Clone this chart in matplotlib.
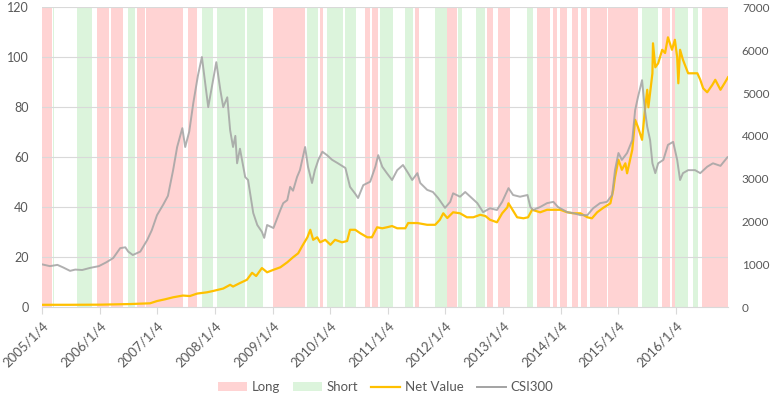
import matplotlib
matplotlib.use("Agg")
import matplotlib.pyplot as plt
from matplotlib.patches import Patch
from matplotlib.lines import Line2D
from datetime import datetime

# ---------------- data (dates as decimal years) ----------------
csi_t = [2005.01, 2005.14, 2005.27, 2005.37, 2005.49, 2005.58, 2005.70, 2005.84, 2005.99,
         2006.12, 2006.24, 2006.36, 2006.45, 2006.50, 2006.58, 2006.71, 2006.83, 2006.91,
         2007.00, 2007.11, 2007.19, 2007.28, 2007.35, 2007.44, 2007.49, 2007.56, 2007.63,
         2007.71, 2007.78, 2007.83, 2007.89, 2007.96,
         2008.03, 2008.10, 2008.15, 2008.22, 2008.27, 2008.32, 2008.36, 2008.39, 2008.44,
         2008.53, 2008.58, 2008.67, 2008.74, 2008.82, 2008.86, 2008.91,
         2009.02, 2009.14, 2009.19, 2009.26, 2009.31, 2009.36, 2009.43, 2009.48, 2009.57,
         2009.62, 2009.69, 2009.74, 2009.80, 2009.87, 2009.95,
         2010.04, 2010.14, 2010.27, 2010.35, 2010.44, 2010.49, 2010.58, 2010.70, 2010.79,
         2010.84, 2010.91, 2010.99,
         2011.08, 2011.17, 2011.27, 2011.36, 2011.43, 2011.52, 2011.57, 2011.69, 2011.79,
         2011.88,
         2012.00, 2012.09, 2012.14, 2012.26, 2012.35, 2012.44, 2012.56, 2012.66, 2012.78,
         2012.90, 2012.99,
         2013.10, 2013.18, 2013.30, 2013.43, 2013.48, 2013.53, 2013.65, 2013.77, 2013.88,
         2013.96,
         2014.12, 2014.22, 2014.35, 2014.47, 2014.57, 2014.69, 2014.81, 2014.90, 2014.95,
         2015.01, 2015.07, 2015.16, 2015.25, 2015.30, 2015.35, 2015.42, 2015.47, 2015.51,
         2015.56, 2015.60, 2015.65, 2015.70, 2015.79, 2015.87, 2015.96,
         2016.03, 2016.08, 2016.13, 2016.22, 2016.34, 2016.43, 2016.55, 2016.65, 2016.78,
         2016.90]
csi_v = [1000, 960, 990, 930, 850, 880, 870, 920, 960,
         1050, 1150, 1380, 1400, 1300, 1220, 1300, 1570, 1800,
         2150, 2400, 2600, 3200, 3740, 4180, 3740, 4100, 4760,
         5400, 5840, 5300, 4670, 5200,
         5720, 5070, 4670, 4900, 4130, 3740, 4000, 3360, 3700,
         3040, 2970, 2200, 1920, 1760, 1620, 1920,
         1850, 2270, 2430, 2500, 2810, 2720, 3040, 3200, 3740,
         3280, 2900, 3200, 3440, 3630, 3550,
         3440, 3360, 3250, 2810, 2650, 2550, 2850, 2930, 3280,
         3550, 3280, 3130,
         2970, 3200, 3320, 3130, 2970, 3130, 2900, 2740, 2690,
         2550,
         2320, 2460, 2660, 2580, 2690, 2580, 2430, 2220, 2310,
         2270, 2460,
         2780, 2620, 2580, 2620, 2340, 2270, 2340, 2430, 2460,
         2340,
         2220, 2200, 2150, 2150, 2310, 2430, 2460, 2620, 3200,
         3600, 3440, 3600, 3900, 4600, 4910, 5300, 4600, 4210,
         3900, 3360, 3130, 3360, 3440, 3790, 3860,
         3440, 2970, 3130, 3200, 3200, 3130, 3280, 3360, 3300,
         3500]

nv_t = [2005.01, 2005.49, 2006.01, 2006.53, 2006.88, 2007.00, 2007.14, 2007.28, 2007.45,
        2007.57, 2007.70, 2007.87, 2007.97,
        2008.15, 2008.27, 2008.32, 2008.44, 2008.56, 2008.65, 2008.72, 2008.82, 2008.91,
        2009.02, 2009.14, 2009.26, 2009.36, 2009.45, 2009.52, 2009.61, 2009.66, 2009.71,
        2009.78, 2009.83, 2009.92,
        2010.01, 2010.09, 2010.21, 2010.30, 2010.35, 2010.44, 2010.53, 2010.65, 2010.73,
        2010.82, 2010.91, 2010.99,
        2011.08, 2011.17, 2011.31, 2011.36, 2011.52, 2011.69, 2011.83, 2011.91, 2011.97,
        2012.04, 2012.14, 2012.26, 2012.38, 2012.49, 2012.61, 2012.70, 2012.78, 2012.90,
        2012.99,
        2013.08, 2013.10, 2013.17, 2013.25, 2013.36, 2013.44, 2013.51, 2013.65, 2013.77,
        2013.88,
        2014.00, 2014.12, 2014.22, 2014.35, 2014.47, 2014.55, 2014.64, 2014.74, 2014.87,
        2014.92, 2014.95,
        2015.01, 2015.07, 2015.13, 2015.16, 2015.25, 2015.30, 2015.35, 2015.42, 2015.47,
        2015.51, 2015.53, 2015.60, 2015.61, 2015.65, 2015.70, 2015.77, 2015.82, 2015.87,
        2015.94, 2015.99,
        2016.03, 2016.05, 2016.08, 2016.13, 2016.22, 2016.38, 2016.43, 2016.48, 2016.55,
        2016.64, 2016.69, 2016.78, 2016.86, 2016.91]
nv_v = [1.0, 1.0, 1.05, 1.3, 1.6, 2.5, 3.2, 4.0, 4.7,
        4.5, 5.5, 6.0, 6.5,
        7.5, 9.0, 8.3, 9.7, 11.0, 13.8, 12.5, 15.7, 14.0,
        15.0, 16.0, 18.0, 20.0, 21.6, 24.5, 28.0, 31.0, 27.0,
        28.0, 26.0, 27.0,
        25.0, 27.0, 26.0, 26.5, 31.0, 31.0, 29.6, 28.0, 28.0,
        32.0, 31.6, 32.0,
        32.5, 31.6, 31.6, 33.7, 33.7, 33.0, 33.0, 35.0, 37.6,
        35.7, 38.0, 37.6, 36.0, 36.0, 37.0, 36.5, 35.0, 34.0,
        37.6,
        40.0, 41.6, 39.0, 36.0, 35.6, 36.0, 39.0, 38.0, 39.0,
        39.0,
        39.0, 38.0, 37.6, 37.6, 36.0, 35.6, 38.0, 39.7, 41.6,
        47.0, 52.0,
        59.0, 55.0, 57.6, 53.6, 63.0, 75.0, 72.0, 67.0, 79.0,
        87.0, 80.0, 93.6, 105.6, 96.0, 97.6, 103.0, 101.7, 108.0,
        103.0, 107.0,
        100.0, 89.6, 103.0, 99.0, 93.6, 93.6, 91.0, 87.6, 86.0,
        89.0, 91.0, 87.0, 90.0, 92.0]

band_start = [2005.01, 2005.19, 2005.61, 2005.96, 2006.20, 2006.50, 2006.65, 2006.81,
              2007.54, 2007.78, 2008.04, 2008.56, 2009.02, 2009.61, 2009.83, 2009.95,
              2010.27, 2010.61, 2010.73, 2010.87, 2011.31, 2011.48, 2011.83, 2012.04,
              2012.23, 2012.54, 2012.73, 2012.92, 2013.43, 2013.60, 2013.88, 2014.00,
              2014.21, 2014.36, 2014.52, 2014.83, 2015.42, 2015.77, 2015.94, 2015.99,
              2016.31, 2016.46]
band_end = [2005.18, 2005.21, 2005.87, 2006.17, 2006.41, 2006.62, 2006.79, 2007.45,
            2007.70, 2007.97, 2008.53, 2008.84, 2009.57, 2009.80, 2009.88, 2010.23,
            2010.46, 2010.70, 2010.84, 2011.10, 2011.45, 2011.55, 2012.04, 2012.21,
            2012.30, 2012.70, 2012.83, 2013.13, 2013.53, 2013.82, 2013.95, 2014.12,
            2014.31, 2014.47, 2014.81, 2015.35, 2015.70, 2015.91, 2015.99, 2016.22,
            2016.39, 2016.91]
band_type = ['Long', 'Short', 'Short', 'Long', 'Long', 'Short', 'Long', 'Long',
             'Long', 'Short', 'Short', 'Short', 'Long', 'Short', 'Long', 'Short',
             'Short', 'Long', 'Long', 'Short', 'Short', 'Long', 'Short', 'Long',
             'Short', 'Short', 'Long', 'Long', 'Short', 'Long', 'Long', 'Long',
             'Long', 'Long', 'Long', 'Long', 'Short', 'Long', 'Long', 'Short',
             'Short', 'Long']

tick_years = list(range(2005, 2017))
tick_labels = [f"{y}/1/4" for y in tick_years]

# ---------------- helpers ----------------
def dy(v):
    y = int(v)
    a = datetime(y, 1, 1)
    b = datetime(y + 1, 1, 1)
    return a + (b - a) * (v - y)

LONG_C = '#FFD3D3'
SHORT_C = '#DCF4DC'
NV_C = '#FFC000'
CSI_C = '#A3A3A3'
TXT_C = '#595959'

plt.rcParams['font.family'] = ['Lato', 'DejaVu Sans']

fig = plt.figure(figsize=(7.71, 3.98), dpi=100)
ax = fig.add_axes([0.0549, 0.2279, 0.8893, 0.7538])
ax2 = ax.twinx()

for s, e, t in zip(band_start, band_end, band_type):
    ax.axvspan(dy(s), dy(e), color=LONG_C if t == 'Long' else SHORT_C, lw=0, zorder=1)

for yv in range(20, 121, 20):
    ax.axhline(yv, color='#D9D9D9', lw=0.8, zorder=2)

ax.plot([dy(v) for v in nv_t], nv_v, color=NV_C, lw=1.6, zorder=4)
ax2.plot([dy(v) for v in csi_t], csi_v, color=CSI_C, lw=1.4, alpha=0.85, zorder=3)

ax.set_xlim(dy(2005.01), dy(2016.91))
ax.set_ylim(0, 120)
ax2.set_ylim(0, 7000)
ax.set_yticks(range(0, 121, 20))
ax2.set_yticks(range(0, 7001, 1000))

ax.set_xticks([datetime(y, 1, 4) for y in tick_years])
ax.set_xticklabels(tick_labels, rotation=45, ha='right', va='top', rotation_mode='anchor')

for a in (ax, ax2):
    for sp in a.spines.values():
        sp.set_visible(False)
ax.spines['bottom'].set_visible(True)
ax.spines['bottom'].set_color('#D9D9D9')
ax.spines['bottom'].set_zorder(5)

ax.tick_params(axis='x', colors='#D9D9D9', length=5, width=0.8, labelcolor=TXT_C,
               labelsize=9.5, pad=4)
ax.tick_params(axis='y', length=0, labelcolor=TXT_C, labelsize=9, pad=10)
ax2.tick_params(axis='y', length=0, labelcolor=TXT_C, labelsize=8.5, pad=10)

handles = [Patch(facecolor=LONG_C, edgecolor='none'),
           Patch(facecolor=SHORT_C, edgecolor='none'),
           Line2D([], [], color=NV_C, lw=1.6),
           Line2D([], [], color=CSI_C, lw=1.4)]
fig.legend(handles, ['Long', 'Short', 'Net Value', 'CSI300'], loc='center',
           bbox_to_anchor=(0.5, 0.027), ncol=4, frameon=False, fontsize=9.5,
           handlelength=2.2, handleheight=0.6, handletextpad=0.35, columnspacing=1.0,
           labelcolor=TXT_C)

fig.savefig('out.png', dpi=100)
